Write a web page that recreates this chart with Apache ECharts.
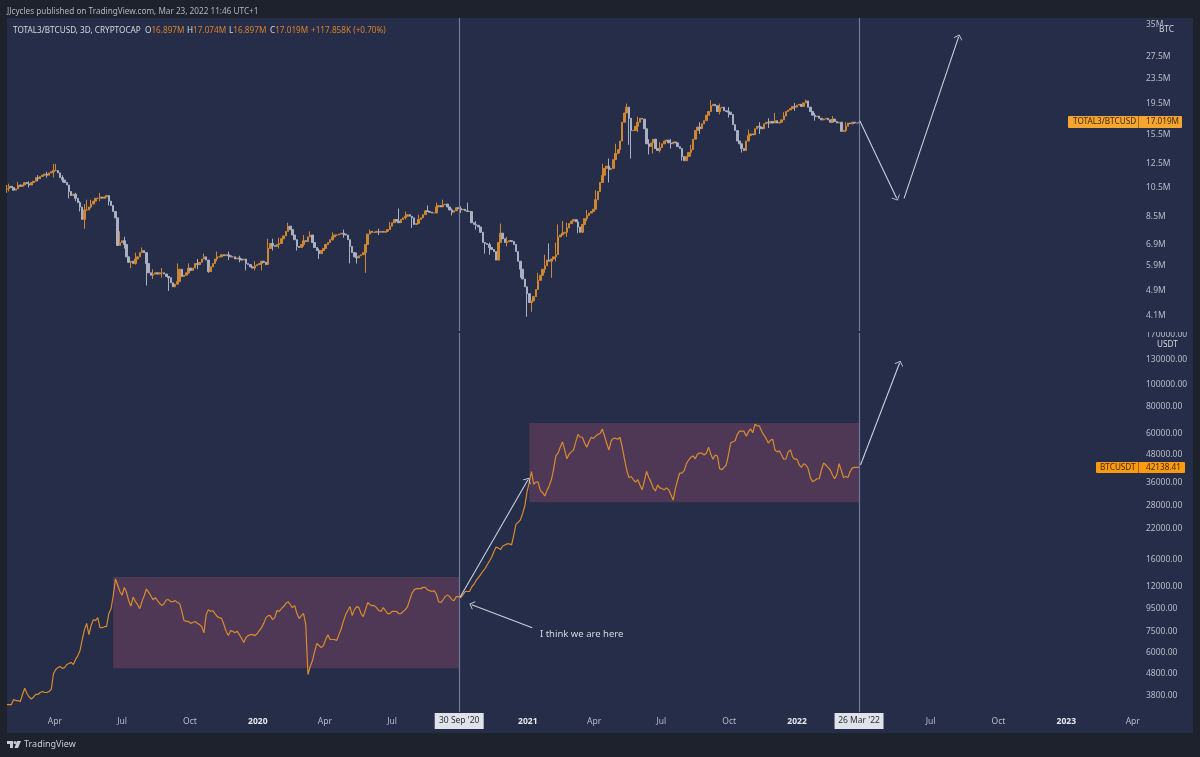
<!DOCTYPE html>
<html>
<head>
<meta charset="utf-8">
<title>TOTAL3/BTCUSD vs BTCUSDT</title>
<script src="https://cdn.jsdelivr.net/npm/echarts@6/dist/echarts.min.js"></script>
<style>
html,body{margin:0;padding:0;background:#1e222d;}
#chart{width:1200px;height:757px;}
</style>
</head>
<body>
<div id="chart"></div>
<script>
//3 day bars, first one on this date
var firstBar = '2019-01-26';
var barDays = 3;

//TOTAL3/BTCUSD closes, in millions
var total3Close = [
10.4,10.6,10.5,10.3,10.4,10.7,10.6,10.7,10.9,10.8,
10.7,10.9,11.0,11.3,11.2,11.4,11.5,11.6,11.5,11.7,
11.8,11.9,11.9,11.7,11.3,11.1,10.9,10.7,10.2,9.9,
10.0,9.7,9.4,9.1,8.3,8.9,8.9,9.1,9.3,9.5,
9.7,9.7,9.8,9.7,9.8,9.9,9.5,9.2,8.8,8.4,
6.85,7.0,7.1,6.9,6.3,6.05,6.1,6.0,6.2,6.3,
6.5,6.6,6.5,6.0,5.6,5.5,5.55,5.6,5.55,5.6,
5.6,5.55,5.45,5.4,5.2,5.05,5.15,5.25,5.75,5.45,
5.5,5.6,5.8,5.7,5.8,6.0,5.95,6.05,6.2,6.3,
6.15,5.65,5.85,6.0,6.2,6.3,6.3,6.4,6.35,6.4,
6.35,6.3,6.3,6.2,6.25,6.2,6.15,6.2,6.0,5.95,
5.85,5.8,5.9,5.95,6.0,6.1,6.05,5.95,6.7,6.95,
6.85,6.8,6.9,6.95,7.2,7.35,7.6,7.9,7.7,7.4,
7.15,6.8,6.75,6.9,7.1,7.05,7.3,7.4,7.0,6.75,
6.6,6.45,6.6,6.7,6.9,7.0,7.15,7.3,7.4,7.4,
7.45,7.5,7.45,7.4,7.15,6.8,6.5,6.3,6.25,6.35,
6.4,6.5,6.9,7.45,7.6,7.55,7.55,7.6,7.55,7.6,
7.55,7.6,7.7,7.9,8.1,8.3,8.2,8.1,8.3,8.4,
8.5,8.6,8.5,8.4,8.0,8.05,8.3,8.4,8.6,8.85,
8.8,8.75,8.7,8.7,9.1,9.2,9.1,9.25,9.3,9.1,
8.9,8.75,8.85,9.05,9.0,8.9,8.95,8.85,8.8,8.8,
8.1,8.0,7.95,7.85,7.55,7.0,6.95,6.9,6.75,6.65,
6.55,6.15,7.0,7.5,7.2,7.0,7.05,7.1,7.05,6.9,
6.55,6.1,5.75,5.35,5.05,4.8,4.5,4.55,4.7,4.95,
5.3,5.5,5.75,5.9,6.15,6.1,6.2,6.3,6.4,7.3,
7.4,7.5,7.55,7.8,8.05,8.2,8.3,8.15,7.85,7.55,
8.0,8.35,8.55,8.7,8.8,8.95,9.6,10.2,10.9,11.5,
12.1,12.3,12.0,12.1,12.9,13.5,13.9,14.8,17.0,18.2,
19.0,17.5,16.0,16.0,16.5,17.0,17.5,17.4,16.2,14.5,
14.2,14.6,15.0,14.0,13.8,14.1,14.5,14.8,14.9,14.6,
14.5,14.7,14.6,14.2,14.0,13.2,12.8,13.2,13.6,13.9,
15.0,16.0,16.4,16.2,16.8,17.2,17.9,18.4,19.2,19.4,
19.2,18.4,18.9,19.0,18.5,18.4,18.3,18.0,16.7,16.0,
14.8,14.5,14.0,13.8,14.8,15.4,15.6,15.5,16.2,16.5,
16.4,16.2,16.8,17.0,16.9,17.1,16.9,17.2,16.9,17.0,
17.3,17.8,18.4,18.6,18.8,19.1,19.0,19.3,19.4,19.1,
19.6,19.9,19.0,18.4,17.9,17.7,17.8,17.5,17.3,17.4,
17.5,17.3,17.0,17.4,17.1,16.9,17.0,15.9,16.0,16.5,
16.9,16.8,17.0,16.9,16.897,17.019
];
//the wicks that stick out enough to read: bar number, high, low
var wickBar  = [0,1,21,22,28,35,36,51,56,61,63,73,77,78,89,91,108,115,118,127,131,137,155,162,164,177,183,190,197,208,216,223,235,237,245,246,249,251,272,277,280,281,282,292,305,318,332,347,361,
5,10,14,18,25,31,33,38,42,46,53,58,66,70,82,86,95,100,105,112,120,123,134,141,147,152,158,168,173,180,186,194,201,205,212,218,226,232,240,243,248,253,258,262,266,269,275,285,290,295,300,309,313,322,326,335,340,344,351,356,365,373,379];
var wickHigh = [10.7,10.8,12.5,12.5,null,9.3,9.6,7.6,null,6.75,null,null,6.0,null,6.45,null,null,null,7.2,8.1,null,7.6,null,null,7.7,9.0,null,9.2,9.6,9.4,null,8.05,null,null,6.95,null,8.0,8.2,13.0,null,19.5,null,null,null,null,20.0,null,18.2,20.1,
10.95,11.0,11.5,11.8,11.5,10.1,9.5,9.6,10.1,9.9,7.3,6.5,5.75,5.8,6.0,6.2,6.55,6.55,6.35,6.1,7.2,7.25,7.4,6.7,7.55,7.7,6.5,7.75,8.15,8.8,8.6,9.4,9.0,9.15,8.2,7.0,7.3,6.1,5.6,6.4,7.0,8.1,8.3,8.9,10.3,12.5,14.5,17.7,15.0,14.7,15.0,14.4,17.0,19.5,19.0,16.1,17.0,17.5,18.3,19.6,18.2,17.8,17.0];
var wickLow  = [10.1,10.2,11.3,null,9.7,7.75,null,null,5.8,null,5.1,4.9,null,5.3,null,5.6,5.7,5.7,null,null,6.6,null,6.0,5.6,null,null,7.8,null,null,null,6.45,null,4.05,4.2,null,5.4,null,null,10.9,13.5,null,14.4,13.0,13.5,12.8,null,13.6,null,null,
10.4,10.5,11.0,11.3,10.9,9.5,8.8,9.0,9.5,9.2,6.7,5.95,5.35,5.4,5.55,5.75,6.1,6.15,6.05,5.7,6.6,6.7,6.8,6.2,7.1,7.25,6.0,7.4,7.7,8.3,8.05,8.8,8.55,8.7,7.7,6.4,6.8,5.4,5.0,5.6,6.1,7.3,7.5,8.2,9.1,10.9,12.9,15.8,13.4,13.6,14.0,13.2,15.6,18.0,17.6,14.8,15.6,16.3,17.3,18.5,17.2,16.9,15.8];

//BTCUSDT closes
var btcClose = [
3470,3470,3470,3660,3620,3620,3580,3860,4120,3900,
3760,3680,3760,3860,3860,3940,3980,3940,3940,3980,
4070,4800,5020,5120,5180,5080,5120,5290,5350,5410,
5290,5580,5810,6130,6880,7630,8150,7240,7970,8480,
8400,8660,7790,7790,7870,7870,9040,9480,10900,13000,
12200,11400,10970,11900,11300,10350,9780,10750,10270,9920,
9520,10270,10900,11700,11300,10900,10450,10680,10350,10050,
9820,10050,10450,10450,10250,10250,10350,10150,10050,9240,
8400,8320,8320,8150,8230,8320,8150,8050,7870,7390,
8930,9420,9240,9330,9040,8750,8660,8570,8050,7510,
7170,7550,7510,7390,7510,7240,6950,6670,7030,7170,
7240,7240,7170,7310,7550,7790,8150,8660,8840,8840,
8480,8660,9330,9240,9520,9730,10050,10250,9920,9620,
9820,9040,8570,8840,9040,8050,4760,5180,5500,6060,
6600,6460,6320,6460,6880,7240,6880,6880,6880,6820,
7240,7710,8320,8930,9330,9730,8840,9420,9730,9620,
9040,8750,9420,10150,9920,9820,9820,9620,9330,9240,
9620,9330,9040,9040,9240,9240,9240,9040,9040,9240,
9420,9730,10450,11200,11600,11750,11750,11750,11900,11900,
11600,11500,11400,11500,11100,10250,10150,10450,10800,11000,
10800,10450,10350,10800,10800,10680,11000,11400,11400,11400,
11950,12300,12800,13200,13600,14100,14500,15100,15700,16350,
17300,18200,18000,17700,18400,18600,18800,18800,18600,20650,
23150,23600,24200,25900,28100,32600,36000,40200,35200,36000,
36000,32900,32300,31100,33000,34600,37000,41300,47400,48800,
52000,55000,50500,46000,48400,49500,50500,55000,59500,57700,
57700,54300,52000,55000,57700,57000,58400,59500,60000,63000,
58400,54000,50500,55600,57000,57000,56500,57700,52000,46000,
41000,37800,38200,37000,36000,37000,34900,33200,36400,40300,
37800,36000,33900,32800,34900,33900,33600,33200,33900,33200,
31500,29800,33600,36800,39600,39600,40600,43700,45400,46800,
47400,46000,48400,48800,48800,47900,48800,52000,48400,45800,
47900,47400,41500,41000,42000,43100,48000,54300,55000,55600,
59500,61500,61500,61500,58400,61000,63000,60500,66200,65000,
65000,61500,59000,57000,54300,56000,56500,50500,49500,50000,
47900,45800,46000,49500,50500,46800,45800,45800,43100,42000,
43700,43100,41500,37800,36200,36600,37300,37300,40900,44000,
43100,42000,40900,38800,37300,39000,43700,40600,37800,38200,
37800,40300,41800,42000,42000,42138.41
];

//tick labels
var total3Ticks = [35,27.5,23.5,19.5,15.5,12.5,10.5,8.5,6.9,5.9,4.9,4.1];
var btcTicks = [170000,130000,100000,80000,60000,48000,36000,28000,22000,16000,12000,9500,7500,6000,4800,3800];
var timeTickDates = ['2019-04-01','2019-07-01','2019-10-01','2020-01-01','2020-04-01','2020-07-01','2020-09-30','2021-01-01','2021-04-01','2021-07-01','2021-10-01','2022-01-01','2022-03-26','2022-07-01','2022-10-01','2023-01-01','2023-04-01'];
var timeTickNames = ['Apr','Jul','Oct','2020','Apr','Jul',"30 Sep '20",'2021','Apr','Jul','Oct','2022',"26 Mar '22",'Jul','Oct','2023','Apr'];

//drawings on the chart
var markedDates = ['2020-09-30','2022-03-26'];
var btcBoxes = [
	[['2019-06-19',13260],['2020-09-30',5080]],
	[['2021-01-03',67000],['2022-03-26',29150]]
];
var total3Arrows = [
	[['2022-03-27',17.2],['2022-05-16',9.7]],
	[['2022-05-26',9.7],['2022-08-08',31.9]]
];
var btcArrows = [
	[['2020-10-01',10700],['2021-01-01',36800]],
	[['2022-03-28',43100],['2022-05-20',126000]],
	[['2021-01-07',7790],['2020-10-17',9920]]
];

var orange = '#d98b2d';
var candleUp = '#cf8630';
var candleDown = '#aab0c4';
var panel = '#252d48';
var uiFont = '"Noto Sans", sans-serif';
var smallFont = '8.2px "Noto Sans"';
var openArrow = 'path://M0,0 L10,10 L8.8,11.2 L0,3 L-8.8,11.2 L-10,10 Z';

function toTime(d) {
	return new Date(d).getTime();
}
function toCoord(p) {
	return [toTime(p[0]), p[1]];
}
var timeTickValues = timeTickDates.map(toTime);

var total3Bars = [];
var btcLine = [];
for(var i = 0; i < total3Close.length; i++) {
	var t = toTime(firstBar) + i * barDays * 86400000;
	var open = i ? total3Close[i - 1] : total3Close[0];
	var close = total3Close[i];
	var high = Math.max(open, close);
	var low = Math.min(open, close);
	var w = wickBar.indexOf(i);
	if(w >= 0) {
		if(wickHigh[w] != null) high = Math.max(high, wickHigh[w]);
		if(wickLow[w] != null) low = Math.min(low, wickLow[w]);
	}
	total3Bars.push([t, open, close, low, high]);
	btcLine.push([t, btcClose[i]]);
}

function arrowLines(list) {
	return list.map(function(a) {
		return [{
			coord: toCoord(a[0]),
			symbol: 'none'
		}, {
			coord: toCoord(a[1]),
			symbol: openArrow,
			symbolSize: [9, 9],
			symbolKeepAspect: true
		}];
	});
}
function drawnLines(list) {
	var lines = markedDates.map(function(d) {
		return {
			xAxis: toTime(d),
			symbol: 'none',
			lineStyle: {
				color: '#6f7a99',
				width: 1.2,
				type: 'solid'
			}
		};
	});
	return lines.concat(arrowLines(list));
}
function drawnLineStyle() {
	return {
		silent: true,
		animation: false,
		symbol: 'none',
		label: {
			show: false
		},
		emphasis: {
			disabled: true
		},
		lineStyle: {
			color: '#c9cfdf',
			width: 1.1,
			type: 'solid'
		}
	};
}
function headerValue(x, letter, value) {
	return {
		type: 'text', z: 50, silent: true, x: x, y: 27,
		style: {
			text: '{w|' + letter + '}{o|' + value + '}',
			rich: {
				w: {fill: '#d6d8e0', font: smallFont},
				o: {fill: '#d9822b', font: smallFont}
			}
		}
	};
}

var myChart = echarts.init(document.getElementById('chart'));
var total3Mark = drawnLineStyle();
total3Mark.data = drawnLines(total3Arrows);
var btcMark = drawnLineStyle();
btcMark.data = drawnLines(btcArrows);

var xMin = toTime('2019-01-26');
var xMax = toTime('2023-04-19');
var option = {
	animation: false,
	backgroundColor: '#1e222d',
	textStyle: {
		fontFamily: uiFont
	},
	grid: [
		{left: 7, top: 18, width: 1139, height: 313},
		{left: 7, top: 333, width: 1139, height: 379}
	],
	xAxis: [{
		type: 'value',
		gridIndex: 0,
		min: xMin,
		max: xMax,
		show: false
	}, {
		type: 'value',
		gridIndex: 1,
		min: xMin,
		max: xMax,
		axisLine: {show: false},
		axisTick: {show: false},
		splitLine: {show: false},
		axisLabel: {
			customValues: timeTickValues,
			margin: 1,
			hideOverlap: false,
			showMinLabel: true,
			showMaxLabel: true,
			color: '#b8bcc8',
			fontFamily: uiFont,
			fontSize: 8.5,
			formatter: function(value) {
				var name = timeTickNames[timeTickValues.indexOf(value)];
				if(name === undefined) return '';
				if(name.indexOf("'") >= 0) return '{box|' + name + '}';
				if(name.length === 4) return '{year|' + name + '}';
				return '{norm|' + name + '}';
			},
			rich: {
				norm: {
					color: '#b8bcc8',
					fontFamily: uiFont,
					fontSize: 8.5,
					height: 18,
					lineHeight: 18
				},
				year: {
					color: '#e8eaf0',
					fontWeight: 'bold',
					fontFamily: uiFont,
					fontSize: 8.5,
					height: 18,
					lineHeight: 18
				},
				box: {
					color: '#2a2e39',
					backgroundColor: '#dfe2e9',
					fontFamily: uiFont,
					fontSize: 8.5,
					width: 49,
					height: 16,
					lineHeight: 16,
					align: 'center'
				}
			}
		}
	}],
	yAxis: [{
		type: 'log',
		gridIndex: 0,
		position: 'right',
		min: 3.646,
		max: 36.67,
		axisLine: {show: false},
		axisTick: {show: false},
		splitLine: {show: false},
		minorTick: {show: false},
		axisLabel: {
			customValues: total3Ticks,
			margin: 0,
			padding: [2, 0, 0, 0],
			color: '#b8bcc8',
			fontFamily: uiFont,
			fontSize: 8.5,
			showMinLabel: true,
			showMaxLabel: true,
			formatter: function(v) {
				return (Math.round(v * 10) / 10) + 'M';
			}
		}
	}, {
		type: 'log',
		gridIndex: 1,
		position: 'right',
		min: 3210,
		max: 172700,
		axisLine: {show: false},
		axisTick: {show: false},
		splitLine: {show: false},
		minorTick: {show: false},
		axisLabel: {
			customValues: btcTicks,
			margin: 0,
			padding: [2, 0, 0, 0],
			color: '#b8bcc8',
			fontFamily: uiFont,
			fontSize: 8.5,
			showMinLabel: true,
			showMaxLabel: true,
			formatter: function(v) {
				return (Math.round(v)).toFixed(2);
			}
		}
	}],
	series: [{
		name: 'TOTAL3/BTCUSD',
		type: 'candlestick',
		xAxisIndex: 0,
		yAxisIndex: 0,
		barWidth: 2,
		encode: {x: 0, y: [1, 2, 3, 4]},
		itemStyle: {
			color: candleUp,
			color0: candleDown,
			borderColor: candleUp,
			borderColor0: candleDown,
			borderWidth: 1
		},
		data: total3Bars,
		markLine: total3Mark
	}, {
		name: 'BTCUSDT',
		type: 'line',
		xAxisIndex: 1,
		yAxisIndex: 1,
		showSymbol: false,
		symbol: 'none',
		lineStyle: {
			color: orange,
			width: 1.2
		},
		data: btcLine,
		markLine: btcMark,
		markArea: {
			silent: true,
			itemStyle: {
				color: '#4f3856'
			},
			data: btcBoxes.map(function(b) {
				return [{coord: toCoord(b[0])}, {coord: toCoord(b[1])}];
			})
		}
	}],
	graphic: [
		{type: 'rect', z: -10, silent: true, shape: {x: 7, y: 18, width: 1186, height: 715}, style: {fill: panel}},
		{type: 'text', z: 50, silent: true, x: 7, y: 8, style: {
			text: 'JJcycles published on TradingView.com, Mar 23, 2022 11:46 UTC+1',
			fill: '#b2b5be', font: smallFont
		}},
		{type: 'text', z: 50, silent: true, x: 13, y: 27, style: {
			text: 'TOTAL3/BTCUSD, 3D, CRYPTOCAP',
			fill: '#d6d8e0', font: smallFont
		}},
		headerValue(145, 'O', '16.897M'),
		headerValue(187, 'H', '17.074M'),
		headerValue(229, 'L', '16.897M'),
		headerValue(270, 'C', '17.019M'),
		{type: 'text', z: 50, silent: true, x: 311, y: 27, style: {
			text: '+117.858K (+0.70%)', fill: '#d9822b', font: smallFont
		}},
		//units cover the top tick of each scale
		{type: 'rect', z: 48, silent: true, shape: {x: 1140, y: 324, width: 52, height: 8}, style: {fill: panel}},
		{type: 'text', z: 50, silent: true, x: 1158, y: 25, style: {
			text: 'BTC', fill: '#d6d8e0', font: smallFont, backgroundColor: panel, padding: [1, 1, 1, 1]
		}},
		{type: 'text', z: 50, silent: true, x: 1156, y: 340, style: {
			text: 'USDT', fill: '#d6d8e0', font: smallFont, backgroundColor: panel, padding: [1, 1, 1, 1]
		}},
		//last price tags
		{type: 'rect', z: 49, silent: true, shape: {x: 1068, y: 116, width: 114, height: 12, r: 1}, style: {fill: '#f6a62f'}},
		{type: 'rect', z: 49, silent: true, shape: {x: 1138, y: 116, width: 1, height: 12}, style: {fill: '#9a6a22'}},
		{type: 'text', z: 50, silent: true, x: 1073, y: 118, style: {text: 'TOTAL3/BTCUSD', fill: '#3c2a10', font: smallFont}},
		{type: 'text', z: 50, silent: true, x: 1146, y: 118, style: {text: '17.019M', fill: '#3c2a10', font: smallFont}},
		{type: 'rect', z: 49, silent: true, shape: {x: 1096, y: 462, width: 89, height: 11, r: 1}, style: {fill: '#fd9b0e'}},
		{type: 'rect', z: 49, silent: true, shape: {x: 1138, y: 462, width: 1, height: 11}, style: {fill: '#9a6a22'}},
		{type: 'text', z: 50, silent: true, x: 1100, y: 463.5, style: {text: 'BTCUSDT', fill: '#3c2a10', font: smallFont}},
		{type: 'text', z: 50, silent: true, x: 1146, y: 463.5, style: {text: '42138.41', fill: '#3c2a10', font: smallFont}},
		//note next to the arrow
		{type: 'text', z: 50, silent: true, x: 540, y: 629, style: {text: 'I think we are here', fill: '#d6d8e0', font: '9.5px "Noto Sans"'}},
		//footer logo
		{type: 'polygon', z: 50, silent: true, shape: {points: [[7,741],[13,741],[13,748],[10,748],[10,744],[7,744]]}, style: {fill: '#c8cbd5'}},
		{type: 'polygon', z: 50, silent: true, shape: {points: [[17,741],[21,741],[18,748],[14.5,748]]}, style: {fill: '#c8cbd5'}},
		{type: 'circle', z: 50, silent: true, shape: {cx: 15, cy: 742.5, r: 1.5}, style: {fill: '#c8cbd5'}},
		{type: 'text', z: 50, silent: true, x: 24, y: 740, style: {text: 'TradingView', fill: '#c8cbd5', font: '9px "Noto Sans"'}}
	]
};
myChart.setOption(option);
</script>
</body>
</html>
